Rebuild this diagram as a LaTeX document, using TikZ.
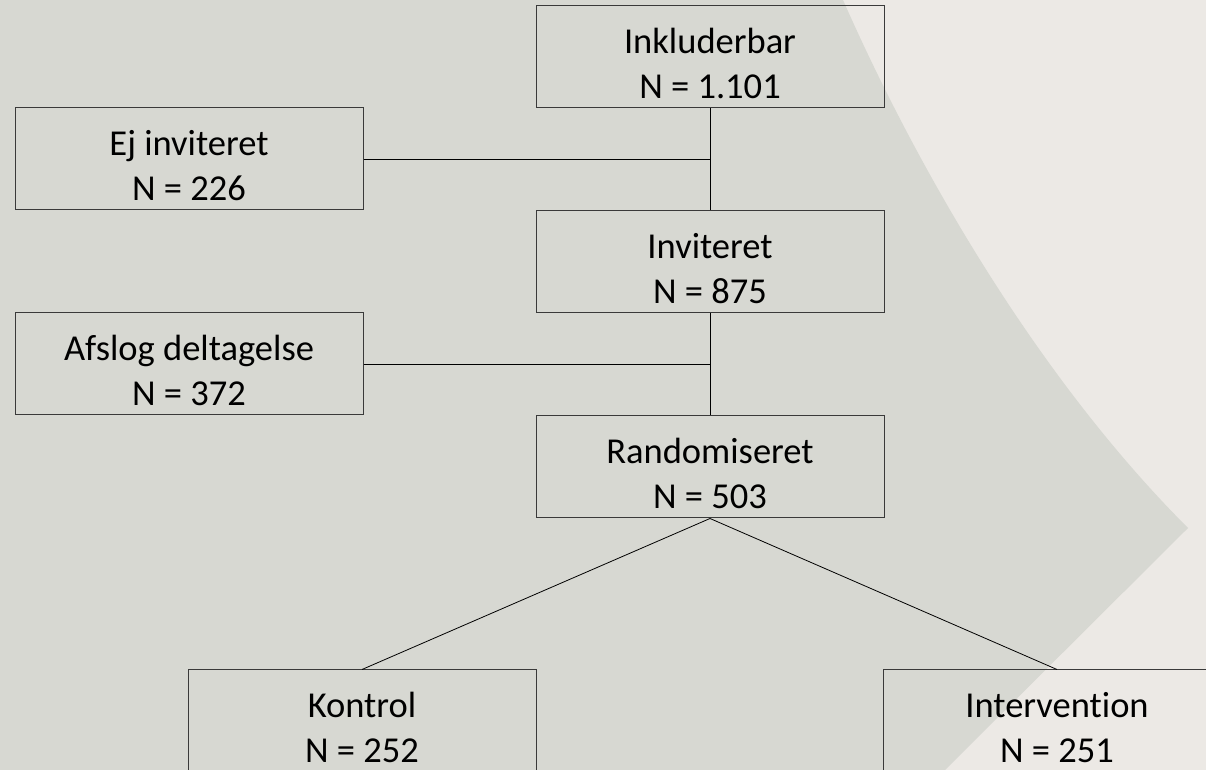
\documentclass[tikz,border=0pt]{standalone}
\usepackage{fontspec}
\setmainfont{Carlito}[Ligatures=NoCommon]
\usepackage{xcolor}
\definecolor{slidegray}{HTML}{D7D8D2}
\definecolor{slidelight}{HTML}{ECE9E5}
\definecolor{boxline}{HTML}{3A3A3A}
\newcommand{\boxstrut}{\rule{0pt}{37.5pt}}

\begin{document}
\begin{tikzpicture}[x=1pt,y=1pt,
    flowbox/.style={draw=boxline,line width=1pt,minimum width=348pt,minimum height=102pt,
      inner sep=0pt,align=center,font=\fontsize{36.5}{45}\selectfont},
    link/.style={black,line width=.8pt}]
  \useasboundingbox (0,0) rectangle (1206,770);
  \fill[slidelight] (0,0) rectangle (1206,770);
  \fill[slidegray] (0,0) -- (0,770) -- (843,770)
    .. controls (909,620) and (1028,402) .. (1188,242) -- (945,0) -- cycle;
  \node[flowbox] (inkl) at (710,713) {\boxstrut Inkluderbar\\N = 1.101};
  \node[flowbox] (ejinv) at (189,611) {\boxstrut Ej inviteret\\N = 226};
  \node[flowbox] (inv) at (710,508) {\boxstrut Inviteret\\N = 875};
  \node[flowbox] (afslog) at (189,406) {\boxstrut Afslog deltagelse\\N = 372};
  \node[flowbox] (rand) at (710,303) {\boxstrut Randomiseret\\N = 503};
  \node[flowbox] (kontrol) at (362,49) {\boxstrut Kontrol\\N = 252};
  \node[flowbox] (interv) at (1057,49) {\boxstrut Intervention\\N = 251};
  \draw[link] (inkl.south) -- (inv.north);
  \draw[link] (ejinv.east) -- (ejinv.east -| inkl.south);
  \draw[link] (inv.south) -- (rand.north);
  \draw[link] (afslog.east) -- (afslog.east -| inv.south);
  \draw[link] (rand.south) -- (kontrol.north);
  \draw[link] (rand.south) -- (interv.north);
\end{tikzpicture}
\end{document}
